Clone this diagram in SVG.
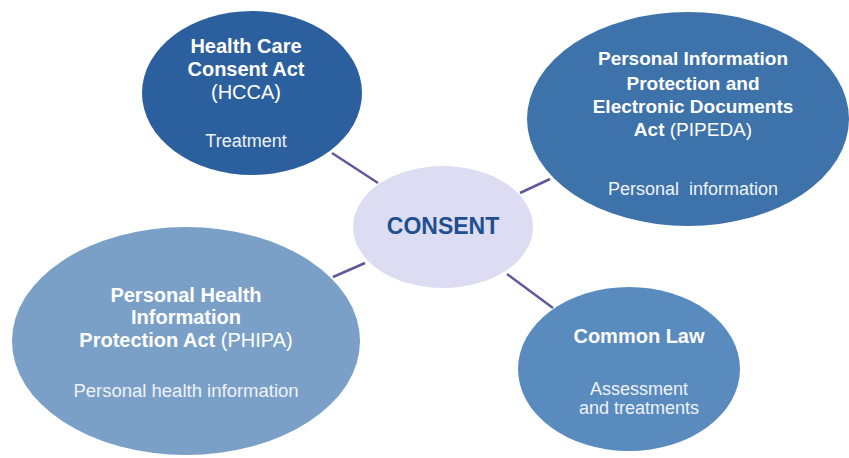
<svg xmlns="http://www.w3.org/2000/svg" width="849" height="458" viewBox="0 0 849 458">
<style>
text{font-family:"Liberation Sans",Arial,sans-serif;text-anchor:middle;fill:#ffffff}
.t{font-weight:bold;font-size:20px}
.tp{font-weight:bold;font-size:19px}
.n{font-weight:normal}
.s{font-size:18px;fill:#eef2f8;white-space:pre}
.c{stroke:#5d5a9a;stroke-width:2.5;fill:none}
</style>
<rect width="849" height="458" fill="#ffffff"/>
<g id="connectors">
<line class="c" x1="332" y1="153" x2="378" y2="183"/>
<line class="c" x1="520" y1="193" x2="550" y2="179"/>
<line class="c" x1="333" y1="277" x2="365" y2="263"/>
<line class="c" x1="507" y1="274" x2="553" y2="308"/>
</g>
<g id="hcca">
<ellipse cx="252" cy="93" rx="110" ry="82" fill="#2c5f9d"/>
<text class="t" x="246" y="53">Health Care</text>
<text class="t" x="246" y="76">Consent Act</text>
<text class="t n" x="246" y="99">(HCCA)</text>
<text class="s" x="246" y="147">Treatment</text>
</g>
<g id="pipeda">
<ellipse cx="688" cy="119" rx="161" ry="107" fill="#3d72aa"/>
<text class="tp" x="693" y="65">Personal Information</text>
<text class="tp" x="693" y="90">Protection and</text>
<text class="tp" x="693" y="113">Electronic Documents</text>
<text class="tp" x="693" y="136">Act <tspan class="n">(PIPEDA)</tspan></text>
<text class="s" x="693" y="195">Personal  information</text>
</g>
<g id="consent">
<ellipse cx="443" cy="227" rx="90" ry="61" fill="#dcdcf2"/>
<text x="443" y="234" style="font-weight:bold;font-size:23px;fill:#1f4f8f">CONSENT</text>
</g>
<g id="phipa">
<ellipse cx="186" cy="341" rx="174" ry="114" fill="#7aa0c8"/>
<text class="t" x="186" y="302">Personal Health</text>
<text class="t" x="186" y="324">Information</text>
<text class="t" x="186" y="347">Protection Act <tspan class="n">(PHIPA)</tspan></text>
<text class="s" x="186" y="397" style="font-size:18.5px">Personal health information</text>
</g>
<g id="common-law">
<ellipse cx="629" cy="369" rx="111" ry="82" fill="#5a8bbf"/>
<text class="t" x="639" y="343">Common Law</text>
<text class="s" x="639" y="395">Assessment</text>
<text class="s" x="639" y="414">and treatments</text>
</g>
</svg>
